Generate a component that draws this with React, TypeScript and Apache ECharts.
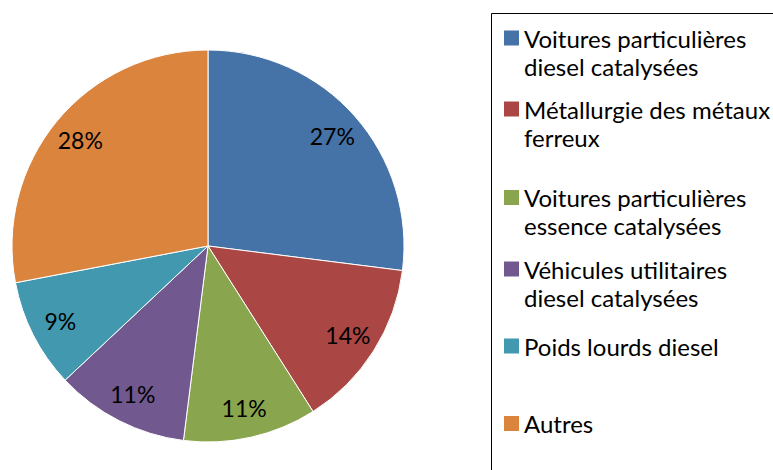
import React, { useEffect, useRef } from "react";
import * as echarts from "echarts";

const categories = [
  "Voitures particulières diesel catalysées",
  "Métallurgie des métaux ferreux",
  "Voitures particulières essence catalysées",
  "Véhicules utilitaires diesel catalysées",
  "Poids lourds diesel",
  "Autres",
];
const legendLines = [
  ["Voitures particulières", "diesel catalysées"],
  ["Métallurgie des métaux", "ferreux"],
  ["Voitures particulières", "essence catalysées"],
  ["Véhicules utilitaires", "diesel catalysées"],
  ["Poids lourds diesel"],
  ["Autres"],
];
const values = [27, 14, 11, 11, 9, 28];
const colors = ["#4572A7", "#AA4643", "#89A54E", "#71588F", "#4198AF", "#DB843D"];

// legend layout (first-line centre of each entry)
const legendRowCenters = [38, 109, 197.5, 269, 346, 423.5];

const FONT = "Lato, 'Noto Sans', sans-serif";

export default function App() {
  const ref = useRef<HTMLDivElement>(null);
  useEffect(() => {
    if (!ref.current) return;
    const chart = echarts.init(ref.current, undefined, { renderer: "svg" });
    const cx = 208;
    const cy = 246;
    const R = 196;
    const lineH = 28;

    const graphics: any[] = [
      {
        type: "rect",
        shape: { x: 491.5, y: 13.5, width: 400, height: 500 },
        style: { fill: "#fff", stroke: "#000", lineWidth: 1 },
        z: 0,
      },
    ];
    categories.forEach((_, i) => {
      const yc = legendRowCenters[i];
      graphics.push({
        type: "rect",
        shape: { x: 504, y: yc - 7.5, width: 15, height: 15 },
        style: { fill: colors[i] },
        z: 1,
      });
      graphics.push({
        type: "text",
        x: 524,
        y: yc - lineH / 2,
        style: {
          text: legendLines[i].join("\n"),
          font: `24px ${FONT}`,
          fill: "#000",
          lineHeight: lineH,
          verticalAlign: "top",
          align: "left",
        },
        z: 1,
      });
    });

    const data = categories.map((name, i) => ({
      name,
      value: values[i],
      itemStyle: { color: colors[i] },
    }));

    chart.setOption({
      animation: false,
      backgroundColor: "#fff",
      series: [
        {
          type: "pie",
          center: [cx, cy],
          radius: [0, R],
          startAngle: 90,
          clockwise: true,
          label: { show: false },
          labelLine: { show: false },
          itemStyle: { borderColor: "#fff", borderWidth: 1 },
          emphasis: { disabled: true },
          silent: true,
          data,
        },
        {
          type: "pie",
          center: [cx, cy],
          radius: [R * 0.66, R],
          startAngle: 90,
          clockwise: true,
          silent: true,
          emphasis: { disabled: true },
          itemStyle: { color: "rgba(0,0,0,0)", borderWidth: 0 },
          label: {
            show: true,
            position: "inside",
            formatter: (p: any) => `${p.value}%`,
            color: "#000",
            fontSize: 23,
            fontFamily: FONT,
          },
          labelLine: { show: false },
          data: categories.map((name, i) => ({ name, value: values[i] })),
        },
      ],
      graphic: graphics,
    });
    return () => chart.dispose();
  }, []);
  return (
    <div
      ref={ref}
      style={{ position: "absolute", left: 0, top: 0, width: 773, height: 470 }}
    />
  );
}
